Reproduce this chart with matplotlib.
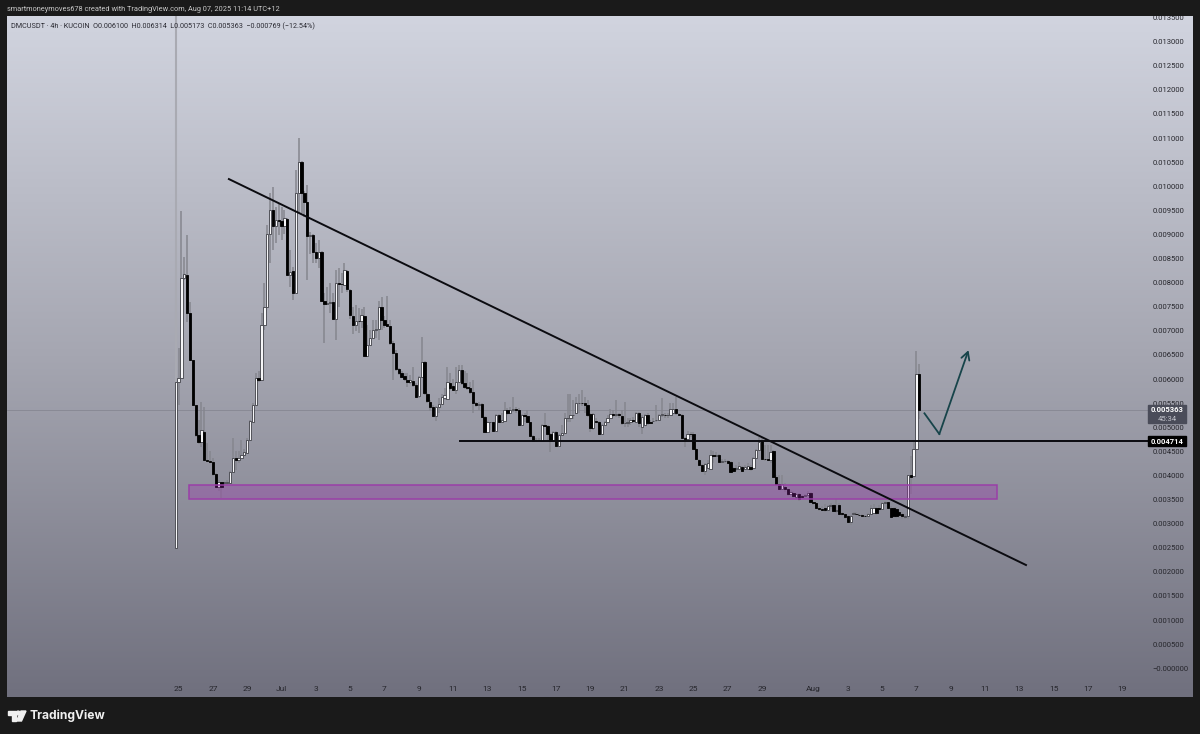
import numpy as np
import matplotlib
matplotlib.use("Agg")
import matplotlib.pyplot as plt
from matplotlib.colors import LinearSegmentedColormap
from matplotlib.patches import Rectangle, Polygon, Circle

# DMCUSDT 4h candles, prices in thousandths of a USDT
opens = [
    2.50, 5.93, 6.02, 8.09, 8.16, 7.38, 6.40, 5.47, 4.83, 4.70,
    4.91, 4.32, 4.31, 4.27, 4.03, 3.77, 3.87, 3.85, 3.84, 3.84,
    4.08, 4.36, 4.32, 4.36, 4.43, 4.47, 4.73, 5.12, 5.46, 6.02,
    5.98, 7.12, 7.50, 9.01, 9.51, 9.17, 9.30, 9.29, 9.17, 9.32,
    8.16, 8.24, 7.78, 9.86, 10.51, 9.86, 9.68, 8.96, 8.99, 8.63,
    8.51, 8.63, 7.63, 7.56, 7.57, 7.60, 7.24, 7.99, 7.98, 7.95,
    8.25, 7.85, 7.31, 7.12, 7.21, 7.20, 7.31, 6.48, 6.71, 6.85,
    7.02, 7.03, 7.49, 7.23, 7.14, 7.10, 6.74, 6.55, 6.20, 6.12,
    6.07, 5.98, 5.93, 5.97, 5.88, 5.64, 6.04, 6.36, 5.69, 5.53,
    5.42, 5.24, 5.42, 5.49, 5.60, 5.59, 5.91, 5.85, 5.78, 5.95,
    6.18, 5.91, 5.84, 5.81, 5.74, 5.50, 5.46, 5.48, 5.21, 4.91,
    5.10, 5.10, 4.93, 5.26, 5.12, 5.14, 5.35, 5.29, 5.35, 5.37,
    5.36, 5.05, 5.26, 5.24, 5.10, 4.81, 4.72, 4.74, 4.72, 5.05,
    5.02, 4.86, 4.72, 4.91, 4.61, 4.84, 4.89, 5.19, 5.20, 5.25,
    5.29, 5.50, 5.51, 5.50, 5.46, 5.27, 4.98, 5.13, 5.12, 4.87,
    5.05, 5.12, 5.20, 5.27, 5.26, 5.27, 5.23, 5.08, 5.09, 5.10,
    5.15, 5.12, 5.29, 5.01, 5.05, 5.25, 5.11, 5.13, 5.15, 5.15,
    5.25, 5.26, 5.25, 5.25, 5.29, 5.39, 5.27, 5.26, 4.77, 4.75,
    4.87, 4.87, 4.56, 4.33, 4.22, 4.10, 4.15, 4.13, 4.42, 4.40,
    4.42, 4.29, 4.30, 4.31, 4.28, 4.15, 4.14, 4.13, 4.17, 4.13,
    4.13, 4.17, 4.15, 4.36, 4.53, 4.71, 4.35, 4.34, 4.33, 4.51,
    3.97, 3.82, 3.72, 3.77, 3.71, 3.61, 3.64, 3.55, 3.61, 3.57,
    3.58, 3.59, 3.63, 3.46, 3.43, 3.32, 3.30, 3.32, 3.28, 3.37,
    3.38, 3.27, 3.38, 3.23, 3.20, 3.17, 3.04, 3.21, 3.21, 3.19,
    3.18, 3.17, 3.16, 3.21, 3.23, 3.33, 3.32, 3.31, 3.43, 3.44,
    3.33, 3.32, 3.30, 3.24, 3.21, 3.14, 3.15, 4.01, 3.98, 4.56,
    6.10,
]
closes = [
    5.93, 6.02, 8.09, 8.18, 7.38, 6.40, 5.47, 4.83, 4.70, 4.95,
    4.32, 4.31, 4.27, 4.03, 3.77, 3.87, 3.77, 3.86, 3.86, 4.08,
    4.36, 4.32, 4.36, 4.43, 4.48, 4.73, 5.14, 5.46, 6.02, 5.99,
    7.12, 7.50, 9.01, 9.51, 9.17, 9.30, 9.29, 9.17, 9.34, 8.16,
    8.23, 7.78, 9.86, 10.51, 9.86, 9.68, 8.96, 8.99, 8.63, 8.51,
    8.63, 7.63, 7.56, 7.57, 7.59, 7.24, 7.99, 7.98, 7.97, 8.26,
    7.86, 7.33, 7.12, 7.21, 7.20, 7.32, 6.48, 6.71, 6.85, 7.02,
    7.03, 7.49, 7.23, 7.12, 7.10, 6.74, 6.55, 6.20, 6.12, 6.05,
    6.00, 5.93, 5.98, 5.88, 5.62, 6.04, 6.36, 5.71, 5.55, 5.42,
    5.24, 5.42, 5.49, 5.62, 5.66, 5.93, 5.81, 5.78, 5.95, 6.18,
    5.91, 5.84, 5.81, 5.74, 5.50, 5.46, 5.48, 5.21, 4.91, 5.10,
    5.11, 4.93, 5.26, 5.12, 5.15, 5.35, 5.29, 5.35, 5.37, 5.36,
    5.05, 5.26, 5.24, 5.10, 4.81, 4.72, 4.74, 4.73, 5.05, 5.02,
    4.86, 4.72, 4.91, 4.61, 4.84, 4.89, 5.19, 5.20, 5.25, 5.26,
    5.50, 5.51, 5.50, 5.46, 5.25, 4.98, 5.27, 5.12, 4.87, 5.05,
    5.12, 5.20, 5.27, 5.26, 5.27, 5.25, 5.08, 5.09, 5.12, 5.15,
    5.14, 5.29, 5.08, 5.22, 5.25, 5.08, 5.08, 5.14, 5.16, 5.25,
    5.27, 5.25, 5.26, 5.39, 5.39, 5.29, 5.26, 4.77, 4.75, 4.87,
    4.86, 4.56, 4.35, 4.22, 4.10, 4.24, 4.25, 4.42, 4.40, 4.42,
    4.29, 4.30, 4.31, 4.26, 4.08, 4.10, 4.15, 4.20, 4.10, 4.17,
    4.20, 4.13, 4.36, 4.53, 4.70, 4.35, 4.34, 4.33, 4.49, 3.97,
    3.82, 3.72, 3.82, 3.71, 3.61, 3.66, 3.57, 3.61, 3.52, 3.56,
    3.59, 3.64, 3.46, 3.43, 3.32, 3.31, 3.29, 3.28, 3.37, 3.39,
    3.27, 3.28, 3.21, 3.20, 3.14, 3.04, 3.16, 3.22, 3.20, 3.18,
    3.17, 3.16, 3.21, 3.32, 3.33, 3.22, 3.31, 3.42, 3.44, 3.33,
    3.13, 3.15, 3.15, 3.18, 3.16, 3.15, 4.01, 3.96, 4.56, 6.11,
    5.363,
]
highs = [
    13.9, 6.64, 9.48, 8.54, 8.99, 7.60, 6.40, 5.47, 5.15, 5.53,
    5.43, 4.67, 4.50, 4.36, 4.05, 3.90, 3.87, 3.87, 3.90, 4.10,
    4.77, 4.50, 4.50, 4.74, 4.55, 4.78, 5.15, 5.50, 6.12, 6.17,
    7.37, 7.99, 9.20, 9.86, 9.99, 9.58, 9.65, 9.58, 9.51, 9.34,
    8.68, 8.33, 10.34, 11.00, 10.52, 9.90, 10.03, 9.05, 9.00, 8.82,
    8.89, 8.65, 7.78, 7.92, 7.99, 7.78, 8.27, 8.30, 8.20, 8.40,
    8.27, 7.87, 7.50, 7.54, 7.47, 7.45, 7.50, 7.12, 7.02, 7.23,
    7.23, 7.61, 7.71, 7.30, 7.73, 7.23, 6.80, 6.60, 6.24, 6.16,
    6.12, 6.12, 6.09, 6.26, 5.92, 6.06, 6.87, 6.38, 5.72, 5.56,
    5.46, 5.45, 5.60, 5.70, 5.81, 6.26, 6.12, 6.00, 6.26, 6.29,
    6.29, 6.16, 6.12, 5.95, 5.98, 5.52, 5.52, 5.50, 5.23, 5.13,
    5.12, 5.12, 5.28, 5.28, 5.29, 5.53, 5.40, 5.43, 5.62, 5.43,
    5.40, 5.28, 5.30, 5.36, 5.12, 4.85, 4.78, 4.78, 5.07, 5.29,
    5.05, 4.88, 4.93, 4.93, 4.86, 5.05, 5.29, 5.70, 5.70, 5.56,
    5.63, 5.70, 5.77, 5.63, 5.56, 5.30, 5.30, 5.20, 5.14, 5.07,
    5.14, 5.25, 5.39, 5.35, 5.56, 5.30, 5.36, 5.53, 5.20, 5.20,
    5.22, 5.32, 5.32, 5.25, 5.28, 5.30, 5.15, 5.20, 5.46, 5.28,
    5.60, 5.30, 5.30, 5.50, 5.50, 5.63, 5.30, 5.28, 4.80, 4.92,
    4.90, 4.90, 4.58, 4.35, 4.24, 4.26, 4.32, 4.53, 4.50, 4.49,
    4.44, 4.34, 4.34, 4.33, 4.30, 4.17, 4.22, 4.28, 4.19, 4.22,
    4.25, 4.22, 4.38, 4.55, 4.80, 4.80, 4.63, 4.63, 4.63, 4.53,
    4.00, 4.00, 4.02, 3.85, 3.73, 3.70, 3.68, 3.63, 3.63, 3.60,
    3.62, 3.68, 3.65, 3.47, 3.44, 3.36, 3.36, 3.40, 3.39, 3.43,
    3.40, 3.52, 3.42, 3.25, 3.22, 3.19, 3.18, 3.25, 3.24, 3.22,
    3.20, 3.19, 3.23, 3.38, 3.40, 3.35, 3.38, 3.46, 3.47, 3.46,
    3.36, 3.35, 3.35, 3.26, 3.24, 3.20, 4.02, 4.40, 4.70, 6.59,
    6.314,
]
lows = [
    2.50, 5.47, 6.02, 8.05, 7.19, 6.40, 5.45, 4.80, 4.65, 4.60,
    4.32, 4.28, 4.25, 3.98, 3.74, 3.67, 3.53, 3.80, 3.80, 3.83,
    4.05, 4.12, 4.25, 4.34, 4.40, 4.45, 4.72, 5.10, 5.44, 5.95,
    5.98, 7.02, 7.50, 8.40, 8.68, 8.82, 8.99, 8.89, 9.02, 8.16,
    7.92, 7.64, 7.78, 9.44, 9.44, 9.37, 8.06, 8.60, 8.40, 8.40,
    8.30, 7.60, 6.74, 7.54, 7.37, 7.22, 6.81, 7.50, 7.78, 7.95,
    7.80, 7.25, 6.94, 6.99, 6.95, 7.05, 6.48, 6.46, 6.68, 6.83,
    6.85, 6.81, 7.02, 7.05, 7.08, 6.70, 5.98, 6.16, 6.08, 6.02,
    5.96, 5.84, 5.90, 5.84, 5.60, 5.60, 6.02, 5.68, 5.50, 5.34,
    5.22, 5.13, 5.29, 5.46, 5.56, 5.57, 5.78, 5.75, 5.70, 5.93,
    5.88, 5.80, 5.78, 5.70, 5.29, 5.43, 5.36, 5.19, 4.88, 4.91,
    4.95, 4.92, 4.92, 5.08, 5.10, 5.12, 5.25, 5.27, 5.32, 5.30,
    5.02, 5.03, 5.12, 5.08, 4.79, 4.70, 4.70, 4.70, 4.70, 5.00,
    4.74, 4.48, 4.70, 4.59, 4.59, 4.82, 4.87, 5.10, 5.10, 5.18,
    5.27, 5.29, 5.45, 5.29, 5.22, 4.91, 4.95, 5.08, 4.85, 4.85,
    5.02, 5.10, 5.18, 5.22, 5.22, 5.20, 5.05, 5.00, 5.00, 5.05,
    5.10, 5.10, 5.00, 4.87, 5.03, 5.05, 5.06, 5.10, 5.12, 5.13,
    5.22, 5.20, 5.20, 5.23, 5.27, 5.25, 5.23, 4.75, 4.60, 4.73,
    4.80, 4.54, 4.33, 4.20, 4.08, 4.01, 4.13, 4.11, 4.25, 4.38,
    4.27, 4.25, 4.25, 4.24, 4.06, 4.08, 4.10, 4.11, 4.08, 4.11,
    4.11, 4.10, 4.13, 4.34, 4.51, 4.33, 4.30, 4.30, 4.25, 3.95,
    3.80, 3.70, 3.70, 3.65, 3.58, 3.59, 3.52, 3.50, 3.48, 3.53,
    3.55, 3.57, 3.44, 3.38, 3.30, 3.27, 3.26, 3.25, 3.26, 3.30,
    3.25, 3.22, 3.20, 3.15, 3.10, 3.02, 2.97, 3.18, 3.18, 3.15,
    3.15, 3.13, 3.14, 3.19, 3.20, 3.18, 3.25, 3.29, 3.40, 3.30,
    3.11, 3.12, 3.12, 3.12, 3.10, 3.10, 3.10, 3.62, 3.96, 4.54,
    5.173,
]

price_ticks = [0.5 * k for k in range(0, 28)]

# days counted from Jun 25
day_offsets = [0, 2, 4, 6, 8, 10, 12, 14, 16, 18, 20, 22, 24, 26, 28, 30, 32, 34,
               37, 39, 41, 43, 45, 47, 49, 51, 53, 55]
day_labels = ["25", "27", "29", "Jul", "3", "5", "7", "9", "11", "13", "15", "17", "19",
              "21", "23", "25", "27", "29",
              "Aug", "3", "5", "7", "9", "11", "13", "15", "17", "19"]

trend_x = [18.6, 297.3]
trend_y = [10.15, 2.143]
level_price = 4.714
level_start = 99.4
last_price = 5.363
zone_x = [4.65, 287.2]
zone_y = [3.51, 3.80]
path_x = [261.8, 267.0, 277.2]
path_y = [5.29, 4.86, 6.60]

W, H = 1200, 734
DARK = "#1a1a1a"
plt.rcParams["font.family"] = ["Roboto", "DejaVu Sans"]


def box(left, top, right, bottom):
    return [left / W, 1 - bottom / H, (right - left) / W, (bottom - top) / H]


fig = plt.figure(figsize=(W / 100, H / 100), dpi=100, facecolor=DARK)

# panel background
bg = fig.add_axes(box(7, 16, 1193, 697), zorder=0)
cmap = LinearSegmentedColormap.from_list("panel", ["#d1d4df", "#a5a6b1", "#70707e"])
bg.imshow(np.linspace(0, 1, 256).reshape(-1, 1), aspect="auto", cmap=cmap)
bg.axis("off")

# main chart
ax = fig.add_axes(box(7, 16, 1148, 681), zorder=1)
ax.patch.set_alpha(0)
ax.set_xlim((7 - 175.7) / 2.86, (1148 - 175.7) / 2.86)
ax.set_ylim((668.3 - 681) / 48.2, (668.3 - 16) / 48.2)
for s in ax.spines.values():
    s.set_visible(False)

idx = np.arange(len(opens))
o, c = np.array(opens), np.array(closes)
up = c >= o

ax.axhline(last_price, color="#6f707c", lw=0.5, alpha=0.6, zorder=1)
ax.vlines(idx, lows, highs, color="#85868e", lw=1.1, zorder=2)
ax.vlines(idx[0], 5.93, highs[0], color="#a9aab2", lw=1.5, zorder=2)
ax.bar(idx[up], (c - o)[up], bottom=o[up], width=0.8, color="#f6f6f8",
       edgecolor="#3f4047", lw=0.6, zorder=3)
ax.bar(idx[~up], (c - o)[~up], bottom=o[~up], width=0.8, color="#000000",
       edgecolor="#000000", lw=0.6, zorder=3)

ax.add_patch(Rectangle((zone_x[0], zone_y[0]), zone_x[1] - zone_x[0], zone_y[1] - zone_y[0],
                       facecolor="#9c27b0", alpha=0.3, lw=0, zorder=4))
ax.add_patch(Rectangle((zone_x[0], zone_y[0]), zone_x[1] - zone_x[0], zone_y[1] - zone_y[0],
                       fill=False, edgecolor="#9a3fa8", lw=1.1, zorder=4))
ax.plot(trend_x, trend_y, color="#0b0b10", lw=1.4, zorder=5)
ax.plot([level_start, ax.get_xlim()[1]], [level_price, level_price], color="#0b0b10", lw=1.4, zorder=5)

# projected path
ax.plot(path_x[:2], path_y[:2], color="#17444a", lw=1.3, zorder=5)
ax.annotate("", xy=(path_x[2], path_y[2]), xytext=(path_x[1], path_y[1]),
            arrowprops=dict(arrowstyle="->,head_length=0.55,head_width=0.3", color="#17444a",
                            lw=1.3, shrinkA=0, shrinkB=0), zorder=5)

# axes
ax.set_xticks([1 + 6 * d for d in day_offsets])
ax.set_xticklabels(day_labels)
ax.yaxis.tick_right()
ax.set_yticks(price_ticks)
ax.set_yticklabels(["\u22120.000000"] + [f"{p / 1000:.6f}" for p in price_ticks[1:]])
ax.tick_params(axis="x", length=0, pad=3.5, labelsize=6.0, labelcolor="#26262c")
ax.tick_params(axis="y", length=0, pad=3.5, labelsize=5.5, labelcolor="#26262c")

# price tags on the scale
tag = ax.get_yaxis_transform()
ax.add_patch(Rectangle((1.0, 5.09), 38 / 1141, 0.37, transform=tag, color="#4a4c59",
                       clip_on=False, zorder=6))
ax.add_patch(Rectangle((1.0, 4.61), 38 / 1141, 0.21, transform=tag, color="#000000",
                       clip_on=False, zorder=6))
ax.text(1 + 19 / 1141, 5.36, f"{last_price / 1000:.6f}", transform=tag, color="white", fontsize=5.5,
        fontweight="bold", ha="center", va="center", zorder=7)
ax.text(1 + 19 / 1141, 5.18, "45:34", transform=tag, color="#c3c4cc", fontsize=5.5,
        ha="center", va="center", zorder=7)
ax.text(1 + 19 / 1141, level_price, f"{level_price / 1000:.6f}", transform=tag, color="white",
        fontsize=5.5, fontweight="bold", ha="center", va="center", zorder=7)

# dark header strip, hides the clipped top label
top = fig.add_axes(box(0, 0, 1200, 16), zorder=2)
top.set_facecolor(DARK)
top.axis("off")
top.add_patch(Rectangle((0, 0), 1, 1, transform=top.transAxes, color=DARK))

fig.text(7 / W, 1 - 9.5 / H, "smartmoneymoves678 created with TradingView.com, Aug 07, 2025 11:14 UTC+12",
         color="#c9c9c9", fontsize=5.3, va="center", zorder=3)
fig.text(11 / W, 1 - 26 / H,
         "DMCUSDT \u00b7 4h \u00b7 KUCOIN  O0.006100  H0.006314  L0.005173  C0.005363  \u22120.000769 (\u221212.54%)",
         color="#2b2b33", fontsize=5.2, va="center", zorder=3)

# TradingView mark
logo = fig.add_axes([0, 0, 1, 1], zorder=3)
logo.set_xlim(0, W)
logo.set_ylim(H, 0)
logo.axis("off")
logo.patch.set_alpha(0)
logo.add_patch(Polygon([(8, 711), (16, 711), (16, 721), (12, 721), (12, 715), (8, 715)], color="#f0f0f0"))
logo.add_patch(Circle((18.2, 713), 1.9, color="#f0f0f0"))
logo.add_patch(Polygon([(21, 711), (26, 711), (21.5, 721), (16.5, 721)], color="#f0f0f0"))
logo.text(30, 715.5, "TradingView", color="#f0f0f0", fontsize=8.7, fontweight="bold",
          family="Inter", va="center")

fig.savefig("out.png", dpi=100, facecolor=DARK)
